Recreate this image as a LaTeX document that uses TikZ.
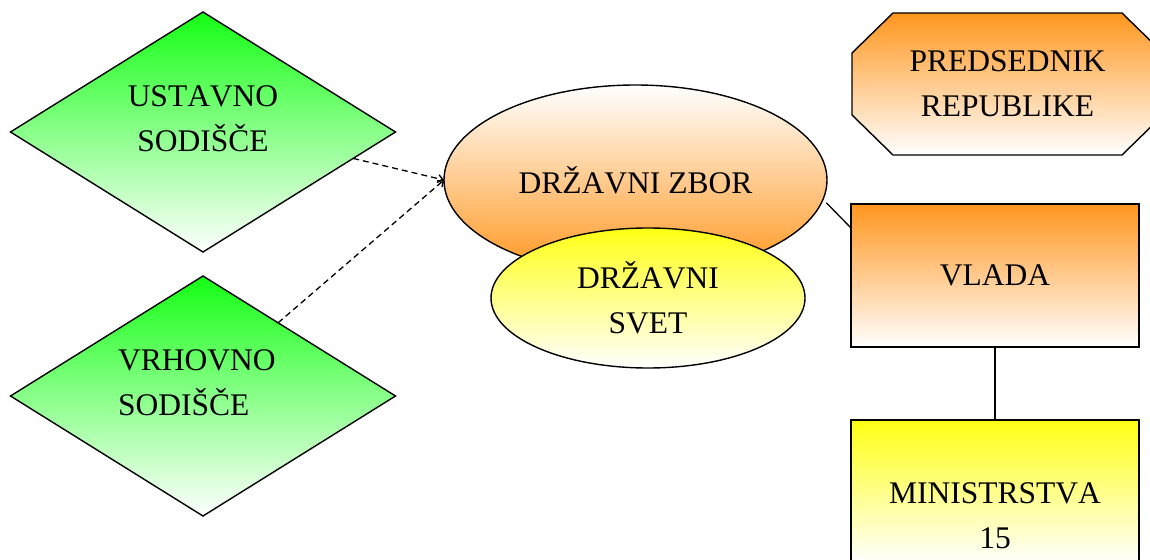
\documentclass[tikz,border=0pt]{standalone}
\usepackage{fontspec}
\setmainfont{Liberation Serif}[Kerning=Off]
\usetikzlibrary{shapes.geometric,arrows.meta,calc}
\definecolor{gr}{RGB}{20,255,20}
\definecolor{org}{RGB}{255,150,30}
\definecolor{yel}{RGB}{255,255,20}
\begin{document}
\begin{tikzpicture}[x=1pt,y=-1pt,
  outline/.style={draw=black, line width=1.4pt, inner sep=0pt, outer sep=0pt},
  txt/.style={font=\fontsize{31.5}{45}\selectfont, align=center, inner sep=0pt},
  greenfill/.style={top color=gr, bottom color=white},
  orangetop/.style={top color=org, bottom color=white},
  orangebottom/.style={top color=white, bottom color=org},
  yellowtop/.style={top color=yel, bottom color=white},
  link/.style={draw=black, line width=1.3pt},
  dashlink/.style={draw=black, line width=1.3pt, dash pattern=on 6pt off 4pt,
    -{Straight Barb[length=5pt,width=8pt]}}]
\useasboundingbox (0,0) rectangle (1150,559);
\clip (0,0) rectangle (1150,559);

% diamonds
\node[outline, greenfill, diamond, minimum width=385pt, minimum height=240pt] (ust) at (203,132) {};
\node[txt] (ustT) at (203,119) {USTAVNO\\SODIŠČE};
\node[outline, greenfill, diamond, minimum width=385pt, minimum height=240pt] (vrh) at (203,396) {};
\node[txt, align=left, anchor=west] (vrhT) at (118,383) {VRHOVNO\\SODIŠČE};

% ellipses
\node[outline, orangebottom, ellipse, minimum width=383pt, minimum height=190pt, txt] (zbor) at (635.5,180) {DRŽAVNI ZBOR};
\node[outline, yellowtop, ellipse, minimum width=314pt, minimum height=140pt, txt] (svet) at (648,298) {DRŽAVNI\\SVET};

% octagon
\node[rectangle, inner sep=0pt, outer sep=0pt, minimum width=311pt, minimum height=142pt] (pred) at (1007.5,84) {};
\path[outline, orangetop]
  ([xshift=41pt]pred.north west) -- ([xshift=-41pt]pred.north east)
  -- ([yshift=-40pt]pred.north east) -- ([yshift=40pt]pred.south east)
  -- ([xshift=-41pt]pred.south east) -- ([xshift=41pt]pred.south west)
  -- ([yshift=40pt]pred.south west) -- ([yshift=-40pt]pred.north west) -- cycle;
\node[txt] (predT) at (pred.center) {PREDSEDNIK\\REPUBLIKE};

% rectangles
\node[outline, orangetop, rectangle, minimum width=288pt, minimum height=143pt, txt] (vlada) at (995,275.5) {VLADA};
\node[outline, yellowtop, rectangle, minimum width=288pt, minimum height=143pt] (min) at (995,491.5) {};
\node[txt] (minT) at (995,516) {MINISTRSTVA\\15};

% connectors
\draw[dashlink] ($(ust.east)!0.22!(ust.south)$) -- (zbor.west);
\draw[dashlink] ($(vrh.north)!0.39!(vrh.east)$) -- (zbor.west);
\draw[link] ([xshift=5pt]zbor.-7) -- ([yshift=-24pt]vlada.north west);
\draw[link] (vlada.south) -- (min.north);
\end{tikzpicture}
\end{document}
